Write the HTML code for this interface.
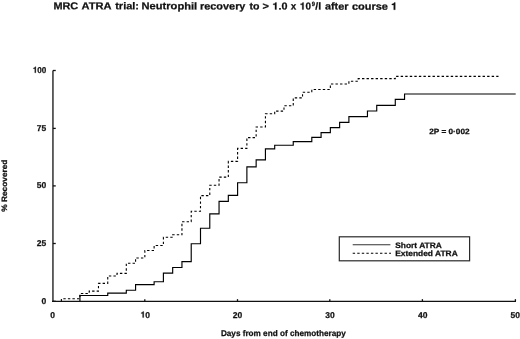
<!DOCTYPE html>
<html><head><meta charset="utf-8"><style>
html,body{margin:0;padding:0;background:#fff;}
body{width:520px;height:339px;overflow:hidden;position:relative;font-family:"Liberation Sans",sans-serif;}
svg{position:absolute;left:0;top:0;will-change:transform;}
text{font-family:"Liberation Sans",sans-serif;font-weight:bold;fill:#111;stroke:#111;stroke-width:0.25px;text-rendering:geometricPrecision;}
.h{fill:none;stroke:none;}
.g{fill:#111;stroke:#111;stroke-width:25;}
</style></head><body>
<svg width="520" height="339" viewBox="0 0 520 339">
<g transform="translate(53.41 9.20) rotate(0.08) scale(1.089 1)"><text font-size="10.00">MRC</text></g><g transform="translate(81.50 9.24) rotate(0.08) scale(1.111 1)"><text font-size="10.00">ATRA</text></g><g transform="translate(115.20 9.29) rotate(0.08) scale(1.100 1)"><text font-size="10.00">trial:</text></g><g transform="translate(141.59 9.33) rotate(0.08) scale(1.111 1)"><text font-size="10.00">Neutrophil</text></g><g transform="translate(200.01 9.42) rotate(0.08) scale(1.089 1)"><text font-size="10.00">recovery</text></g><g transform="translate(249.60 9.49) rotate(0.08) scale(1.056 1)"><text font-size="10.00">to</text></g><g transform="translate(262.50 9.51) rotate(0.08) scale(1.100 1)"><text font-size="10.00">&gt;</text></g><g transform="translate(272.41 9.53) rotate(0.08) scale(1.078 1)"><text font-size="10.00"><tspan class="h">1</tspan>.0</text><path class="g" transform="translate(0.000 0) scale(0.01000 -0.01000)" d="M238 0H378V710H270C262 640 205 583 69 578V472H238Z"/></g><g transform="translate(290.71 9.56) rotate(0.08) scale(0.990 1)"><text font-size="10.00">x</text></g><g transform="translate(299.87 9.57) rotate(0.08) scale(0.990 1)"><text font-size="10.00"><tspan class="h">1</tspan>0</text><path class="g" transform="translate(0.000 0) scale(0.01000 -0.01000)" d="M238 0H378V710H270C262 640 205 583 69 578V472H238Z"/></g><g transform="translate(315.20 9.59) rotate(0.08) scale(1.045 1)"><text font-size="10.00">/</text></g><g transform="translate(318.33 9.60) rotate(0.08) scale(1.045 1)"><text font-size="10.00">l</text></g><g transform="translate(324.90 9.61) rotate(0.08) scale(1.089 1)"><text font-size="10.00">after</text></g><g transform="translate(351.90 9.65) rotate(0.08) scale(1.100 1)"><text font-size="10.00">course</text></g><g transform="translate(391.10 9.71) rotate(0.08) scale(1.100 1)"><text font-size="10.00"><tspan class="h">1</tspan></text><path class="g" transform="translate(0.000 0) scale(0.01000 -0.01000)" d="M238 0H378V710H270C262 640 205 583 69 578V472H238Z"/></g><g transform="translate(311.85 6.00) rotate(0.02) scale(0.950 1)"><text font-size="6.20">9</text></g>
<g stroke="#111" stroke-width="1.3" fill="none">
<line x1="52.95" y1="70.5" x2="52.95" y2="302"/>
<line x1="52.0" y1="301.45" x2="516" y2="301.45"/>
<line x1="52.95" y1="70.5" x2="55.75" y2="70.5"/><line x1="52.95" y1="128.4" x2="55.75" y2="128.4"/><line x1="52.95" y1="185.9" x2="55.75" y2="185.9"/><line x1="52.95" y1="243.5" x2="55.75" y2="243.5"/><line x1="52.95" y1="301.3" x2="55.75" y2="301.3"/>
<line x1="144.8" y1="301.45" x2="144.8" y2="299.15" /><line x1="237.5" y1="301.45" x2="237.5" y2="299.15" /><line x1="329.8" y1="301.45" x2="329.8" y2="299.15" /><line x1="422.4" y1="301.45" x2="422.4" y2="299.15" /><line x1="515.4" y1="301.45" x2="515.4" y2="299.15" />
</g>
<g><g transform="translate(46.30 72.80) rotate(0.02) scale(0.950 1)"><text font-size="8.50" text-anchor="end"><tspan class="h">1</tspan>00</text><path class="g" transform="translate(-14.178 0) scale(0.00850 -0.00850)" d="M238 0H378V710H270C262 640 205 583 69 578V472H238Z"/></g><g transform="translate(46.30 130.70) rotate(0.02) scale(1.000 1)"><text font-size="8.50" text-anchor="end">75</text></g><g transform="translate(46.30 188.20) rotate(0.02) scale(1.000 1)"><text font-size="8.50" text-anchor="end">50</text></g><g transform="translate(46.30 245.80) rotate(0.02) scale(1.000 1)"><text font-size="8.50" text-anchor="end">25</text></g><g transform="translate(46.30 303.60) rotate(0.02) scale(1.000 1)"><text font-size="8.50" text-anchor="end">0</text></g><g transform="translate(52.60 317.60) rotate(0.02) scale(1.000 1)"><text font-size="8.50" text-anchor="middle">0</text></g><g transform="translate(145.30 317.60) rotate(0.02) scale(1.000 1)"><text font-size="8.50" text-anchor="middle"><tspan class="h">1</tspan>0</text><path class="g" transform="translate(-4.726 0) scale(0.00850 -0.00850)" d="M238 0H378V710H270C262 640 205 583 69 578V472H238Z"/></g><g transform="translate(237.60 317.60) rotate(0.02) scale(1.000 1)"><text font-size="8.50" text-anchor="middle">20</text></g><g transform="translate(329.95 317.60) rotate(0.02) scale(1.000 1)"><text font-size="8.50" text-anchor="middle">30</text></g><g transform="translate(422.70 317.60) rotate(0.02) scale(1.000 1)"><text font-size="8.50" text-anchor="middle">40</text></g><g transform="translate(515.20 317.60) rotate(0.02) scale(1.000 1)"><text font-size="8.50" text-anchor="middle">50</text></g></g>
<path d="M79.93 301.30 H79.93 V295.50 H107.75 V293.10 H126.30 V290.20 H135.58 V284.60 H154.12 V281.70 H163.40 V273.10 H172.68 V267.50 H181.95 V261.60 H191.22 V243.70 H200.50 V228.20 H209.78 V213.80 H219.05 V201.30 H228.32 V195.30 H237.60 V182.70 H246.88 V166.80 H256.15 V159.80 H265.43 V148.90 H274.70 V145.20 H293.25 V141.60 H311.80 V137.40 H321.08 V132.60 H330.35 V127.60 H339.63 V122.30 H348.90 V116.60 H367.45 V111.00 H376.73 V105.40 H395.28 V99.40 H404.55 V94.00 H515.70" stroke="#000" stroke-width="1.15" fill="none"/>
<path d="M61.38 301.30 H61.38 V298.70 H79.93 V293.50 H89.20 V291.10 H98.47 V283.40 H107.75 V276.00 H117.03 V273.40 H126.30 V263.30 H135.58 V258.00 H144.85 V250.50 H154.12 V245.50 H163.40 V237.30 H172.68 V234.70 H181.95 V221.80 H191.22 V211.30 H200.50 V195.60 H209.78 V185.30 H219.05 V177.10 H228.32 V161.40 H237.60 V148.40 H246.88 V137.60 H256.15 V127.00 H265.43 V113.80 H274.70 V111.10 H283.98 V105.70 H293.25 V97.90 H302.53 V92.20 H311.80 V89.50 H330.35 V84.00 H348.90 V81.20 H358.18 V78.65 H395.28 V76.40 H498.50" stroke="#000" stroke-width="1.1" fill="none" stroke-dasharray="2.4 2.15"/>
<g transform="translate(429.30 134.20) rotate(0.02) scale(1.080 1)"><text font-size="7.60">2P = 0·002</text></g>
<rect x="339.3" y="236.8" width="130.3" height="24" fill="none" stroke="#2a2a2a" stroke-width="1.2"/>
<line x1="352.7" y1="244.8" x2="390.4" y2="244.8" stroke="#333" stroke-width="1.1"/>
<line x1="352.7" y1="253.3" x2="391" y2="253.3" stroke="#000" stroke-width="1.1" stroke-dasharray="2.4 2.15"/>
<g transform="translate(395.20 248.10) rotate(0.02) scale(1.077 1)"><text font-size="7.80">Short ATRA</text></g>
<g transform="translate(395.20 255.70) rotate(0.02) scale(1.077 1)"><text font-size="7.80">Extended ATRA</text></g>
<g transform="translate(220.90 335.50) rotate(0.02) scale(0.990 1)"><text font-size="8.25">Days from end of chemotherapy</text></g>
<g transform="translate(7.00 211.70) rotate(-90) scale(1.064 1)"><text font-size="7.80">% Recovered</text></g>
</svg>
</body></html>
